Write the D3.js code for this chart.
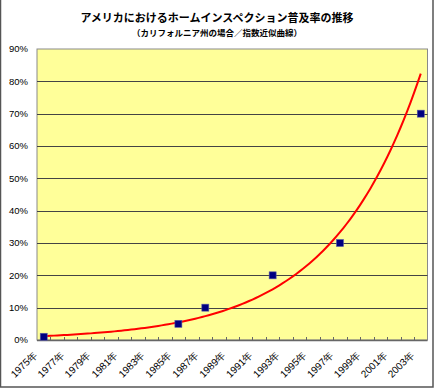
<!DOCTYPE html>
<html>
<head>
<meta charset="utf-8">
<script src="https://cdn.jsdelivr.net/npm/d3@7"></script>
<style>
	body { margin: 0; background: #fff; }
	text { font-family: "Liberation Sans", Arial, sans-serif; fill: #000; }
	.jp { font-family: "Noto Sans CJK JP", sans-serif; font-weight: bold; }
</style>
</head>
<body>
<div id="chart"></div>
<script>
// categories: every year 1975..2003, labels every second year
var years = d3.range(1975, 2004);
var labelYears = d3.range(1975, 2004, 2);
// measured points (percent)
var pointYears = [1975, 1985, 1987, 1992, 1997, 2003];
var pointValues = [1, 5, 10, 20, 30, 70];
var yTicks = [0, 10, 20, 30, 40, 50, 60, 70, 80, 90];

var titleText = "アメリカにおけるホームインスペクション普及率の推移";
var subTitleText = "（カリフォルニア州の場合／指数近似曲線）";

var w = 435, h = 390;
// plot area box (window.top is reserved, so use other names)
var plotL = 37, plotR = 427.5, plotT = 49, plotB = 340;

var svg = d3.select("#chart").append("svg")
	.attr("width", w)
	.attr("height", h);

// outer frame
svg.append("rect")
	.attr("x", 0.5).attr("y", -2)
	.attr("width", 432.5).attr("height", 389)
	.attr("fill", "#fff")
	.attr("stroke", "#555")
	.attr("stroke-width", 1.5);

var xScale = d3.scaleBand()
	.domain(years)
	.range([plotL, plotR]);

// continuous version of the category axis, for the trend curve
var xLin = d3.scaleLinear()
	.domain([years[0] - 0.5, years[years.length - 1] + 0.5])
	.range([plotL, plotR]);

var yScale = d3.scaleLinear()
	.domain([0, 90])
	.range([plotB, plotT]);

// plot area
svg.append("rect")
	.attr("x", plotL).attr("y", plotT)
	.attr("width", plotR - plotL).attr("height", plotB - plotT)
	.attr("fill", "#ffff99")
	.attr("stroke", "#8a8a8a")
	.attr("stroke-width", 1);

// gridlines
svg.append("g").selectAll("line")
	.data(yTicks.filter(function(d) { return d > 0 && d < 90; }))
	.enter().append("line")
	.attr("x1", plotL).attr("x2", plotR)
	.attr("y1", function(d) { return Math.round(yScale(d)) + 0.5; })
	.attr("y2", function(d) { return Math.round(yScale(d)) + 0.5; })
	.attr("stroke", "#444")
	.attr("stroke-width", 1);

// y axis labels
svg.append("g").selectAll("text")
	.data(yTicks)
	.enter().append("text")
	.attr("x", 28)
	.attr("y", function(d) { return yScale(d); })
	.attr("dy", "0.35em")
	.attr("text-anchor", "end")
	.style("font-size", "9.5px")
	.text(function(d) { return d + "%"; });

// x axis line + inside tick marks at category boundaries
svg.append("line")
	.attr("x1", plotL).attr("x2", plotR)
	.attr("y1", plotB + 0.5).attr("y2", plotB + 0.5)
	.attr("stroke", "#666").attr("stroke-width", 1.5);

svg.append("g").selectAll("line")
	.data(years.slice(1))
	.enter().append("line")
	.attr("x1", function(d) { return Math.round(xScale(d)) + 0.5; })
	.attr("x2", function(d) { return Math.round(xScale(d)) + 0.5; })
	.attr("y1", plotB - 3).attr("y2", plotB)
	.attr("stroke", "#666");

// x labels, rotated
svg.append("g").selectAll("text")
	.data(labelYears)
	.enter().append("text")
	.attr("transform", function(d) {
		var cx = xScale(d) + xScale.bandwidth() / 2;
		return "translate(" + (cx - 8.5) + "," + (plotB + 13) + ") rotate(-45)";
	})
	.attr("dy", "0.35em")
	.attr("text-anchor", "end")
	.style("font-size", "10px")
	.text(function(d) { return d + "年"; });

// exponential trend (least squares on ln y, category index 1..n like Excel)
var idx = pointYears.map(function(y) { return y - years[0] + 1; });
var lny = pointValues.map(function(v) { return Math.log(v); });
var mx = d3.mean(idx), my = d3.mean(lny);
var sxy = d3.sum(idx, function(x, i) { return (x - mx) * (lny[i] - my); });
var sxx = d3.sum(idx, function(x) { return (x - mx) * (x - mx); });
var b = sxy / sxx;
var a = my - b * mx;

var curveX = d3.range(1, years.length + 0.001, 0.25);
svg.append("path")
	.datum(curveX)
	.attr("fill", "none")
	.attr("stroke", "#ff0000")
	.attr("stroke-width", 2)
	.attr("d", d3.line()
		.x(function(k) { return xLin(years[0] + k - 1); })
		.y(function(k) { return yScale(Math.exp(a + b * k)); })
	);

// markers
svg.append("g").selectAll("rect")
	.data(pointYears)
	.enter().append("rect")
	.attr("x", function(d) { return xScale(d) + xScale.bandwidth() / 2 - 3.5; })
	.attr("y", function(d, i) { return yScale(pointValues[i]) - 3.5; })
	.attr("width", 7).attr("height", 7)
	.attr("fill", "#000080")
	.attr("stroke", "#5a5aa8")
	.attr("stroke-width", 0.6);

// titles
svg.append("text")
	.attr("class", "jp")
	.attr("x", 217).attr("y", 22)
	.attr("text-anchor", "middle")
	.style("font-size", "11px")
	.text(titleText);

svg.append("text")
	.attr("class", "jp")
	.attr("x", 217).attr("y", 35.5)
	.attr("text-anchor", "middle")
	.style("font-size", "8.5px")
	.text(subTitleText);
</script>
</body>
</html>
